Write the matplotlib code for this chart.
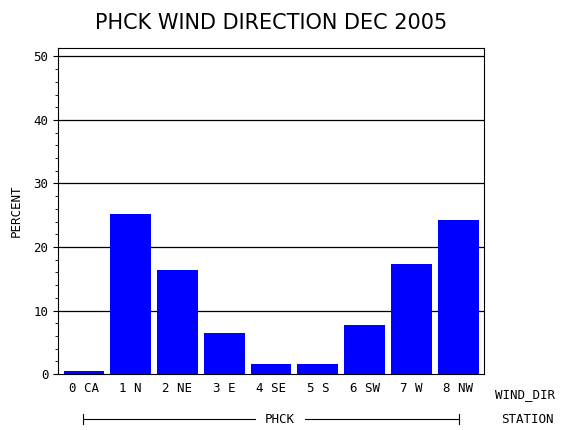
import matplotlib; matplotlib.use("Agg")
import matplotlib.pyplot as plt
from matplotlib.ticker import MultipleLocator

cats=["0 CA","1 N","2 NE","3 E","4 SE","5 S","6 SW","7 W","8 NW"]
pct=[0.5,25.2,16.4,6.4,1.6,1.6,7.8,17.3,24.3]

plt.rcParams['font.family']=['DejaVu Sans Mono']
fig=plt.figure(figsize=(5.7,4.3),dpi=100)
ax=fig.add_axes([0.102,0.130,0.747,0.758])
x=range(len(cats))
ax.bar(x,pct,width=0.87,color="#0000ff",zorder=3)
ax.set_xlim(-0.55,len(cats)-0.45); ax.set_ylim(0,51.3)
for v in range(10,51,10): ax.axhline(v,color="black",lw=0.9,zorder=1)
ax.yaxis.set_major_locator(MultipleLocator(10)); ax.yaxis.set_minor_locator(MultipleLocator(2))
ax.set_xticks(list(x)); ax.set_xticklabels(cats,fontsize=9)
ax.tick_params(axis="x",length=0,pad=6); ax.tick_params(axis="y",labelsize=9)
ax.set_ylabel("PERCENT",fontsize=9,labelpad=8)
ax.set_title("PHCK WIND DIRECTION DEC 2005",fontsize=15,fontname="DejaVu Sans",pad=14)
fig.text(0.868,0.083,"WIND_DIR",fontsize=9,va="center")
fig.text(0.880,0.025,"STATION",fontsize=9,va="center")
# station bracket
y=0.025
fig.add_artist(plt.Line2D([0.146,0.448],[y,y],color="black",lw=0.8))
fig.add_artist(plt.Line2D([0.535,0.805],[y,y],color="black",lw=0.8))
for xx in (0.146,0.805): fig.add_artist(plt.Line2D([xx,xx],[y-0.012,y+0.012],color="black",lw=0.8))
fig.text(0.491,y,"PHCK",fontsize=9,ha="center",va="center")
fig.savefig("out.png",dpi=100)
